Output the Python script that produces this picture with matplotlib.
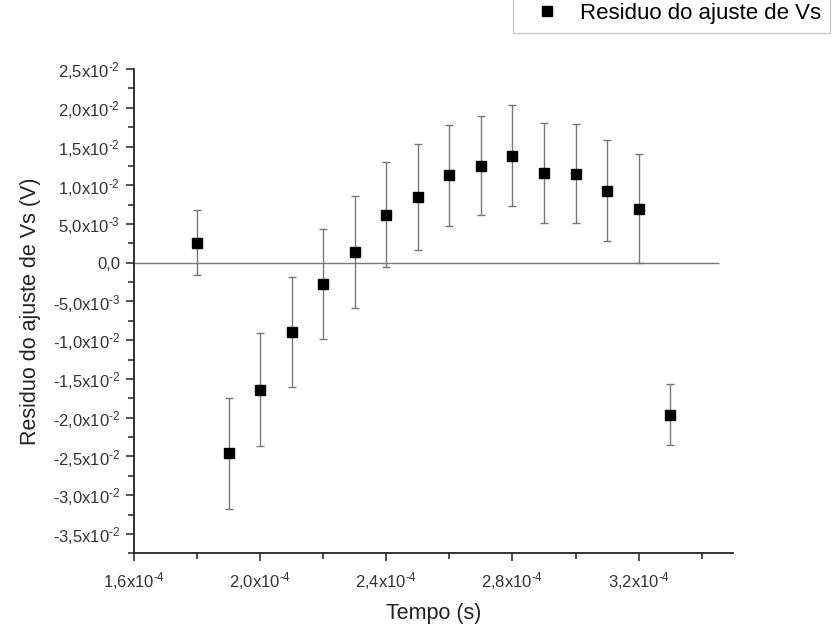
import matplotlib
matplotlib.use("Agg")
import matplotlib.pyplot as plt
from matplotlib.ticker import MultipleLocator, FuncFormatter

plt.rcParams['font.family'] = ['Liberation Sans', 'DejaVu Sans']
plt.rcParams['mathtext.fontset'] = 'custom'
plt.rcParams['mathtext.rm'] = 'Liberation Sans'
plt.rcParams['mathtext.it'] = 'Liberation Sans'

# dados: tempo (s), residuo (V) e erro (V)
tempo = [1.8e-4, 1.9e-4, 2.0e-4, 2.1e-4, 2.2e-4, 2.3e-4, 2.4e-4, 2.5e-4,
         2.6e-4, 2.7e-4, 2.8e-4, 2.9e-4, 3.0e-4, 3.1e-4, 3.2e-4, 3.3e-4]
residuo = [0.26e-2, -2.46e-2, -1.64e-2, -0.89e-2, -0.27e-2, 0.14e-2, 0.62e-2, 0.85e-2,
           1.13e-2, 1.25e-2, 1.38e-2, 1.16e-2, 1.15e-2, 0.93e-2, 0.70e-2, -1.96e-2]
erro = [0.42e-2, 0.72e-2, 0.73e-2, 0.71e-2, 0.71e-2, 0.72e-2, 0.68e-2, 0.68e-2,
        0.65e-2, 0.64e-2, 0.65e-2, 0.65e-2, 0.64e-2, 0.65e-2, 0.70e-2, 0.39e-2]


def sci_virgula(v, pos):
    if abs(v) < 1e-12:
        return '0,0'
    exp = 0
    m = abs(v)
    while m >= 10:
        m /= 10
        exp += 1
    while m < 1:
        m *= 10
        exp -= 1
    sinal = '-' if v < 0 else ''
    return sinal + ('%.1f' % m).replace('.', ',') + r'x10$^{\text{-}' + str(-exp) + '}$'


fig = plt.figure(figsize=(8.37, 6.28), dpi=100)
ax = fig.add_axes([0.160, 0.119, 0.716, 0.771])

ax.hlines(0, 1.6e-4, 3.456e-4, color='#777777', lw=1, zorder=1)
ax.errorbar(tempo, residuo, yerr=erro, fmt='none', ecolor='#777777',
            elinewidth=1, capsize=3, capthick=1, zorder=2)
ax.plot(tempo, residuo, 's', color='black', ms=7, label='Residuo do ajuste de Vs', zorder=3)

ax.set_xlim(1.6e-4, 3.5e-4)
ax.set_ylim(-3.75e-2, 2.5e-2)
ax.xaxis.set_major_locator(MultipleLocator(0.4e-4))
ax.xaxis.set_minor_locator(MultipleLocator(0.2e-4))
ax.yaxis.set_major_locator(MultipleLocator(0.5e-2))
ax.yaxis.set_minor_locator(MultipleLocator(0.25e-2))
ax.xaxis.set_major_formatter(FuncFormatter(sci_virgula))
ax.yaxis.set_major_formatter(FuncFormatter(sci_virgula))

for s in ['top', 'right']:
    ax.spines[s].set_visible(False)
for s in ['left', 'bottom']:
    ax.spines[s].set_linewidth(1.3)
    ax.spines[s].set_color('#222222')
ax.tick_params(which='both', direction='out', color='#222222', width=1.1,
               labelsize=12, labelcolor='#333333')
ax.tick_params(which='major', length=6)
ax.tick_params(which='minor', length=4)
ax.tick_params(axis='y', which='major', pad=4)
ax.tick_params(axis='x', which='major', pad=6)

ax.set_xlabel('Tempo (s)', fontsize=15.5, color='#222222', labelpad=8)
ax.set_ylabel('Residuo do ajuste de Vs (V)', fontsize=15.5, color='#222222', labelpad=8)

leg = fig.legend(loc='lower left', bbox_to_anchor=(513 / 837, 1 - 33 / 628),
                 borderaxespad=0, fontsize=16, fancybox=False, edgecolor='#bbbbbb',
                 borderpad=0.4, handlelength=2.3, handletextpad=0.3)
leg.get_frame().set_linewidth(1)

fig.savefig('out.png', dpi=100)
